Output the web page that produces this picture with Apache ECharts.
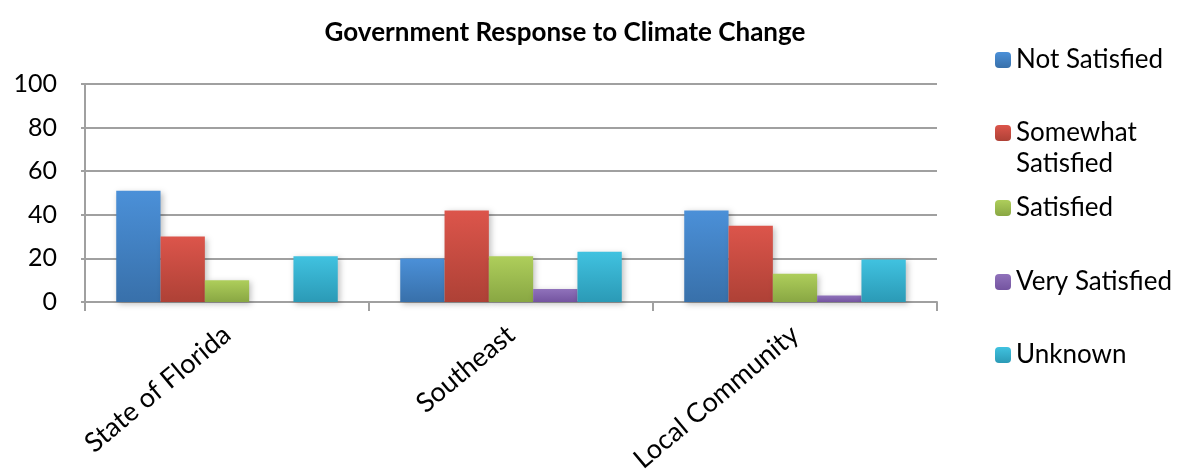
<!DOCTYPE html>
<html>
<head>
<meta charset="utf-8">
<script src="https://cdn.jsdelivr.net/npm/echarts@6/dist/echarts.min.js"></script>
<style>
  html, body { margin: 0; padding: 0; background: #fff; }
  #chart { width: 1185px; height: 475px; }
</style>
</head>
<body>
<div id="chart"></div>
<script>
const categories = ['State of Florida', 'Southeast', 'Local Community'];
const seriesNames = ['Not Satisfied', 'Somewhat Satisfied', 'Satisfied', 'Very Satisfied', 'Unknown'];
const notSatisfied = [51, 20, 42];
const somewhatSatisfied = [30, 42, 35];
const satisfied = [10, 21, 13];
const verySatisfied = [0, 6, 3];
const unknown = [21, 23, 19.5];
const yTicks = [0, 20, 40, 60, 80, 100];

const colors = [
    ['#4b90d8', '#3870aa'],
    ['#dc554b', '#ae4136'],
    ['#aece5b', '#89a743'],
    ['#9072bb', '#7454a0'],
    ['#40c2e0', '#2b9ab6'],
];

function grad(pair) {
    return new echarts.graphic.LinearGradient(0, 0, 0, 1, [
        {offset: 0, color: pair[0]},
        {offset: 1, color: pair[1]},
    ]);
}

function makeSeries(name, data, i) {
    return {
        name: name,
        type: 'bar',
        data: data,
        barGap: '0%',
        barCategoryGap: '22%',
        itemStyle: {
            color: grad(colors[i]),
            shadowColor: 'rgba(0,0,0,0.25)',
            shadowBlur: 6,
            shadowOffsetX: 2,
            shadowOffsetY: 2,
        },
    };
}

// vertical centre of each legend row
const legendCenters = [60, 133, 208, 282, 355];

function getOption() {
    const font = 'Lato, "Open Sans", sans-serif';
    const legends = seriesNames.map((n, i) => ({
        data: [n],
        orient: 'vertical',
        left: 995,
        top: legendCenters[i] - 15,
        padding: 0,
        itemWidth: 16,
        itemHeight: 16,
        selectedMode: false,
        // second line of this one is drawn as a separate text below
        formatter: n === 'Somewhat Satisfied' ? 'Somewhat' : '{name}',
        textStyle: {fontFamily: font, fontSize: 26, color: '#000', lineHeight: 30},
    }));

    return {
        animation: false,
        title: {
            text: 'Government Response to Climate Change',
            left: 560,
            textAlign: 'center',
            top: 15,
            textStyle: {fontFamily: font, fontWeight: 'bold', fontSize: 26, color: '#000'},
        },
        legend: legends,
        graphic: [{
            type: 'text',
            left: 1016,
            top: 151,
            style: {text: 'Satisfied', fontFamily: font, fontSize: 26, fill: '#000'},
        }],
        grid: {left: 85, right: 248, top: 84, bottom: 173, outerBoundsMode: 'none'},
        xAxis: {
            type: 'category',
            data: categories,
            axisLine: {lineStyle: {color: '#a0a0a0', width: 2}},
            axisTick: {show: true, length: 9, lineStyle: {color: '#a0a0a0', width: 2}},
            axisLabel: {
                rotate: 40,
                margin: 29,
                fontFamily: font,
                fontSize: 27,
                color: '#000',
            },
        },
        yAxis: {
            type: 'value',
            min: yTicks[0],
            max: yTicks[yTicks.length - 1],
            interval: 20,
            axisLine: {show: true, lineStyle: {color: '#a0a0a0', width: 2}},
            axisTick: {show: true, length: 4, lineStyle: {color: '#a0a0a0', width: 2}},
            splitLine: {lineStyle: {color: '#a0a0a0', width: 2}},
            axisLabel: {
                margin: 28,
                fontFamily: font,
                fontSize: 25,
                color: '#000',
            },
        },
        series: [
            makeSeries(seriesNames[0], notSatisfied, 0),
            makeSeries(seriesNames[1], somewhatSatisfied, 1),
            makeSeries(seriesNames[2], satisfied, 2),
            makeSeries(seriesNames[3], verySatisfied, 3),
            makeSeries(seriesNames[4], unknown, 4),
        ],
    };
}

const chart = echarts.init(document.getElementById('chart'));
chart.setOption(getOption());
window.addEventListener('resize', () => chart.resize());
</script>
</body>
</html>
